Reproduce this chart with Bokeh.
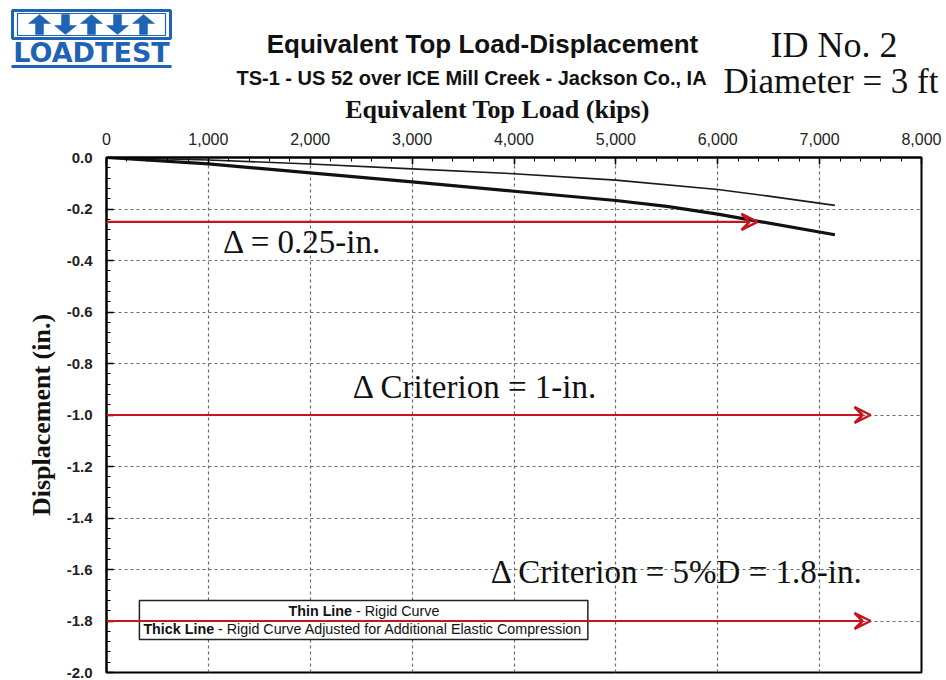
from bokeh.plotting import figure
from bokeh.layouts import column
from bokeh.models import (FixedTicker, NumeralTickFormatter, Label, Arrow, VeeHead,
                          BoxAnnotation, Range1d)
from bokeh.embed import file_html
from bokeh.resources import INLINE

# ---- data ----
load_ticks = [0, 1000, 2000, 3000, 4000, 5000, 6000, 7000, 8000]
load_minor = [v for v in range(0, 8001, 200)]
disp_ticks = [0.0, -0.2, -0.4, -0.6, -0.8, -1.0, -1.2, -1.4, -1.6, -1.8, -2.0]
disp_minor = [round(-0.04 * i, 2) for i in range(51)]

thin_load = [0, 1000, 2000, 3000, 4000, 5000, 6000, 6500, 7150]
thin_disp = [0.0, -0.010, -0.025, -0.044, -0.063, -0.088, -0.124, -0.150, -0.186]

thick_load = [0, 1000, 2000, 3000, 4000, 5000, 5500, 6000, 6400, 7150]
thick_disp = [0.0, -0.025, -0.060, -0.095, -0.131, -0.167, -0.190, -0.220, -0.248, -0.300]

criteria_disp = [-0.25, -1.0, -1.8]
criteria_end_load = [6390, 7500, 7500]
criteria_text = ["\u0394 = 0.25-in.", "\u0394 Criterion = 1-in.", "\u0394 Criterion = 5%D = 1.8-in."]
criteria_text_load = [1144, 2418, 3771]
criteria_text_disp = [-0.33, -0.893, -1.61]

logo_arrow_dirs = [1, -1, 1, -1, 1]   # up / down

RED = "#c4161c"
BLUE = "#1f63b5"
W = 944
HEAD_H = 125
FRAME_TOP = 157

# ---------------- header (titles, x-axis title, logo), pixel coordinates ----------------
h = figure(width=W, height=HEAD_H, x_range=Range1d(0, W), y_range=Range1d(HEAD_H, 0),
           output_backend="svg", toolbar_location=None, x_axis_type=None, y_axis_type=None,
           min_border=0, min_border_left=0, min_border_right=0, min_border_top=0, min_border_bottom=0)
h.grid.visible = False
h.outline_line_color = None
h.frame_align = False

# logo
h.rect(x=[91], y=[24], width=[158], height=[28], fill_color=None, line_color=BLUE, line_width=3)
h.rect(x=[91], y=[24], width=[148], height=[22], fill_color=None, line_color=BLUE, line_width=1.2)
cxs = [39, 65, 91, 117, 143]
axs, ays = [], []
for cx, d in zip(cxs, logo_arrow_dirs):
    tip, base, tail = 24 - 10 * d, 24 - 1 * d, 24 + 10 * d
    axs.append([cx, cx + 11, cx + 4, cx + 4, cx - 4, cx - 4, cx - 11])
    ays.append([tip, base, base, tail, tail, base, base])
h.patches(xs=axs, ys=ays, fill_color=BLUE, line_color=BLUE, line_width=0.5)
h.rect(x=[91], y=[66], width=[160], height=[3], fill_color=BLUE, line_color=None)
h.add_layout(Label(x=91, y=52, text="LOADTEST", text_align="center", text_baseline="middle",
                   text_font="DejaVu Sans", text_font_style="bold", text_font_size="27px",
                   text_color=BLUE))

h.add_layout(Label(x=482, y=43, text="Equivalent Top Load-Displacement", text_align="center",
                   text_baseline="middle", text_font="Liberation Sans", text_font_style="bold",
                   text_font_size="26px", text_color="#111111"))
h.add_layout(Label(x=471, y=77, text="TS-1 - US 52 over ICE Mill Creek - Jackson Co., IA",
                   text_align="center", text_baseline="middle", text_font="Liberation Sans",
                   text_font_style="bold", text_font_size="20px", text_color="#111111"))
h.add_layout(Label(x=770, y=44, text="ID No. 2", text_align="left", text_baseline="middle",
                   text_font="Liberation Serif", text_font_size="36px", text_color="#111111"))
h.add_layout(Label(x=938, y=81, text="Diameter = 3 ft", text_align="right", text_baseline="middle",
                   text_font="Liberation Serif", text_font_size="35px", text_color="#111111"))
# x-axis title (top axis)
h.add_layout(Label(x=497, y=109, text="Equivalent Top Load (kips)", text_align="center",
                   text_baseline="middle", text_font="Liberation Serif", text_font_style="bold",
                   text_font_size="26px", text_color="#111111"))

# ---------------- main chart ----------------
p = figure(width=W, height=680 - HEAD_H, x_range=Range1d(0, 8000), y_range=Range1d(-2.0, 0.0),
           output_backend="svg", toolbar_location=None, x_axis_location="above",
           min_border_left=106, min_border_right=W - 921, min_border_top=FRAME_TOP - HEAD_H,
           min_border_bottom=8, background_fill_color="white", border_fill_color="white")
p.frame_align = False

p.outline_line_color = "black"
p.outline_line_width = 2

xt = FixedTicker(ticks=load_ticks, minor_ticks=load_minor)
yt = FixedTicker(ticks=disp_ticks, minor_ticks=disp_minor)
p.xaxis.ticker = xt
p.yaxis.ticker = yt
p.xgrid.ticker = xt
p.ygrid.ticker = yt
p.xaxis.formatter = NumeralTickFormatter(format="0,0")
p.yaxis.formatter = NumeralTickFormatter(format="0.0")

for ax in (p.xaxis[0], p.yaxis[0]):
    ax.axis_line_color = "black"
    ax.axis_line_width = 2
    ax.major_tick_in = 7
    ax.major_tick_out = 0
    ax.minor_tick_in = 4
    ax.minor_tick_out = 0
    ax.major_tick_line_color = "black"
    ax.minor_tick_line_color = "black"
    ax.major_tick_line_width = 1.5
    ax.major_label_text_color = "#222222"
    ax.axis_label_text_font = "Liberation Serif"
    ax.axis_label_text_font_style = "bold"
    ax.axis_label_text_font_size = "26px"
    ax.axis_label_text_color = "#111111"

p.xaxis.major_label_text_font = "Liberation Sans"
p.xaxis.major_label_text_font_size = "16px"
p.xaxis.major_label_standoff = 13

p.yaxis.axis_label = "Displacement (in.)"
p.yaxis.major_label_text_font = "Liberation Sans"
p.yaxis.major_label_text_font_style = "bold"
p.yaxis.major_label_text_font_size = "15px"
p.yaxis.major_label_standoff = 14
p.yaxis.axis_label_standoff = 8

for g in (p.xgrid[0], p.ygrid[0]):
    g.grid_line_color = "#6a6a6a"
    g.grid_line_dash = "3 3"
    g.grid_line_width = 1.2

# curves
p.line(x=thin_load, y=thin_disp, line_color="#1a1a1a", line_width=1.6)
p.line(x=thick_load, y=thick_disp, line_color="#111111", line_width=3.2)

# legend box
p.add_layout(BoxAnnotation(left=323, right=4725, top=-1.720, bottom=-1.872,
                           fill_color="white", fill_alpha=1.0,
                           line_color="#222222", line_width=1.5, line_alpha=1.0))
leg_font = "Liberation Sans"
LEG_SIZE = "14.3px"
p.add_layout(Label(x=2410, y=-1.763, text="Thin Line", text_align="right", text_baseline="middle",
                   text_font=leg_font, text_font_style="bold", text_font_size=LEG_SIZE, text_color="#111"))
p.add_layout(Label(x=2410, y=-1.763, text="\u00a0- Rigid Curve", text_align="left", text_baseline="middle",
                   text_font=leg_font, text_font_size=LEG_SIZE, text_color="#111"))
p.add_layout(Label(x=1056, y=-1.833, text="Thick Line", text_align="right", text_baseline="middle",
                   text_font=leg_font, text_font_style="bold", text_font_size=LEG_SIZE, text_color="#111"))
p.add_layout(Label(x=1056, y=-1.833, text="\u00a0- Rigid Curve Adjusted for Additional Elastic Compression",
                   text_align="left", text_baseline="middle",
                   text_font=leg_font, text_font_size=LEG_SIZE, text_color="#111"))

# criteria arrows and labels
for d, xe in zip(criteria_disp, criteria_end_load):
    p.add_layout(Arrow(x_start=0, y_start=d, x_end=xe, y_end=d, line_color=RED, line_width=2.2,
                       end=VeeHead(size=16, line_color=RED, line_width=2.5, fill_alpha=0)))
for t, xl, yl in zip(criteria_text, criteria_text_load, criteria_text_disp):
    p.add_layout(Label(x=xl, y=yl, text=t, text_align="left", text_baseline="middle",
                       text_font="Liberation Serif", text_font_size="33px", text_color="#111111"))

layout = column(h, p, spacing=0)
open("out.html", "w").write(file_html(layout, INLINE))
